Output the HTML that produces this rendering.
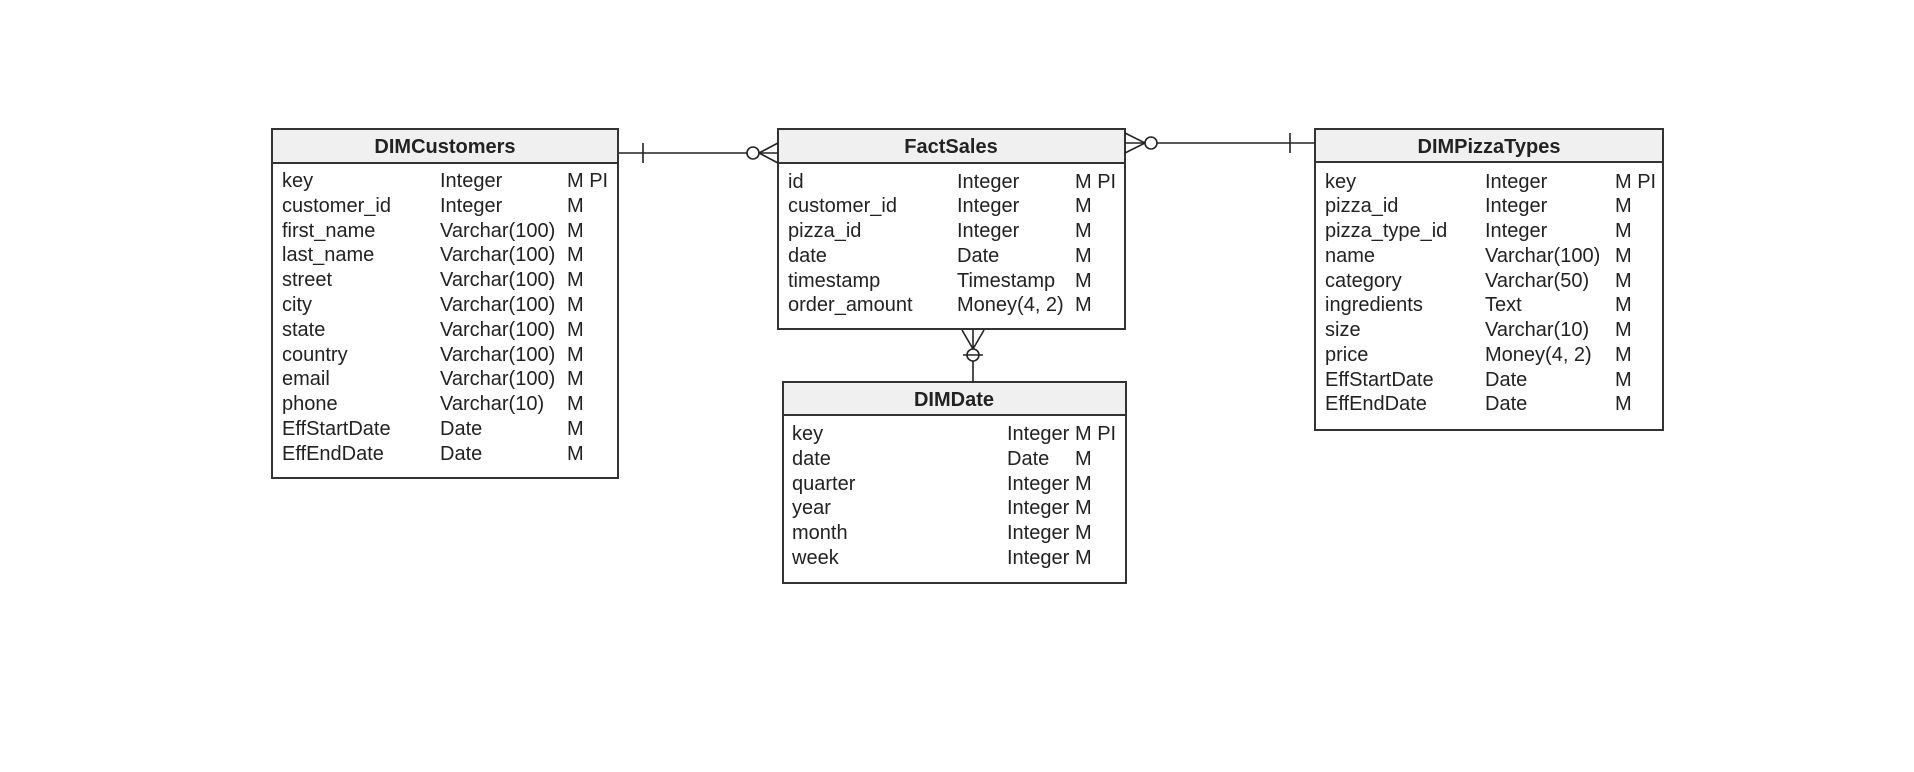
<!DOCTYPE html>
<html><head><meta charset="utf-8"><style>
html,body{margin:0;padding:0;background:#fff;width:1914px;height:772px;overflow:hidden}
svg text{font-family:"Liberation Sans",Arial,sans-serif;font-size:20px;fill:#222}
.t{font-weight:bold;text-anchor:middle}
</style></head><body>
<svg width="1914" height="772" xmlns="http://www.w3.org/2000/svg">
<g stroke="#333" stroke-width="2" fill="none">
<rect x="272" y="129" width="346" height="349" fill="#fff"/>
<rect x="272" y="129" width="346" height="34" fill="#f0f0f0"/>
<rect x="778" y="129" width="347" height="200" fill="#fff"/>
<rect x="778" y="129" width="347" height="34" fill="#f0f0f0"/>
<rect x="783" y="382" width="343" height="201" fill="#fff"/>
<rect x="783" y="382" width="343" height="33" fill="#f0f0f0"/>
<rect x="1315" y="129" width="348" height="301" fill="#fff"/>
<rect x="1315" y="129" width="348" height="33" fill="#f0f0f0"/>
</g>
<g stroke="#222" stroke-width="1.6" fill="none">
<line x1="619" y1="153" x2="747" y2="153"/>
<line x1="643" y1="143" x2="643" y2="163"/>
<circle cx="753" cy="153" r="6" fill="#fff"/>
<line x1="759" y1="153" x2="778" y2="143"/>
<line x1="759" y1="153" x2="778" y2="163"/>
<line x1="759" y1="153" x2="778" y2="153"/>
<line x1="1157" y1="143" x2="1315" y2="143"/>
<line x1="1290" y1="133" x2="1290" y2="153"/>
<circle cx="1151" cy="143" r="6" fill="#fff"/>
<line x1="1145" y1="143" x2="1125" y2="133"/>
<line x1="1145" y1="143" x2="1125" y2="153"/>
<line x1="1145" y1="143" x2="1125" y2="143"/>
<line x1="973" y1="330" x2="973" y2="349"/>
<line x1="973" y1="349" x2="962" y2="330"/>
<line x1="973" y1="349" x2="984" y2="330"/>
<circle cx="973" cy="355" r="6" fill="#fff"/>
<line x1="963" y1="355" x2="983" y2="355"/>
<line x1="973" y1="361" x2="973" y2="382"/>
</g>
<text class="t" x="445" y="153">DIMCustomers</text>
<text class="t" x="951" y="153">FactSales</text>
<text class="t" x="954" y="406">DIMDate</text>
<text class="t" x="1489" y="153">DIMPizzaTypes</text>
<g>
<text x="282" y="187">key</text><text x="440" y="187">Integer</text><text x="567" y="187">M PI</text>
<text x="282" y="212">customer_id</text><text x="440" y="212">Integer</text><text x="567" y="212">M</text>
<text x="282" y="237">first_name</text><text x="440" y="237">Varchar(100)</text><text x="567" y="237">M</text>
<text x="282" y="261">last_name</text><text x="440" y="261">Varchar(100)</text><text x="567" y="261">M</text>
<text x="282" y="286">street</text><text x="440" y="286">Varchar(100)</text><text x="567" y="286">M</text>
<text x="282" y="311">city</text><text x="440" y="311">Varchar(100)</text><text x="567" y="311">M</text>
<text x="282" y="336">state</text><text x="440" y="336">Varchar(100)</text><text x="567" y="336">M</text>
<text x="282" y="361">country</text><text x="440" y="361">Varchar(100)</text><text x="567" y="361">M</text>
<text x="282" y="385">email</text><text x="440" y="385">Varchar(100)</text><text x="567" y="385">M</text>
<text x="282" y="410">phone</text><text x="440" y="410">Varchar(10)</text><text x="567" y="410">M</text>
<text x="282" y="435">EffStartDate</text><text x="440" y="435">Date</text><text x="567" y="435">M</text>
<text x="282" y="460">EffEndDate</text><text x="440" y="460">Date</text><text x="567" y="460">M</text>
</g>
<g>
<text x="788" y="188">id</text><text x="957" y="188">Integer</text><text x="1075" y="188">M PI</text>
<text x="788" y="212">customer_id</text><text x="957" y="212">Integer</text><text x="1075" y="212">M</text>
<text x="788" y="237">pizza_id</text><text x="957" y="237">Integer</text><text x="1075" y="237">M</text>
<text x="788" y="262">date</text><text x="957" y="262">Date</text><text x="1075" y="262">M</text>
<text x="788" y="287">timestamp</text><text x="957" y="287">Timestamp</text><text x="1075" y="287">M</text>
<text x="788" y="311">order_amount</text><text x="957" y="311">Money(4, 2)</text><text x="1075" y="311">M</text>
</g>
<g>
<text x="792" y="440">key</text><text x="1007" y="440">Integer</text><text x="1075" y="440">M PI</text>
<text x="792" y="465">date</text><text x="1007" y="465">Date</text><text x="1075" y="465">M</text>
<text x="792" y="490">quarter</text><text x="1007" y="490">Integer</text><text x="1075" y="490">M</text>
<text x="792" y="514">year</text><text x="1007" y="514">Integer</text><text x="1075" y="514">M</text>
<text x="792" y="539">month</text><text x="1007" y="539">Integer</text><text x="1075" y="539">M</text>
<text x="792" y="564">week</text><text x="1007" y="564">Integer</text><text x="1075" y="564">M</text>
</g>
<g>
<text x="1325" y="188">key</text><text x="1485" y="188">Integer</text><text x="1615" y="188">M PI</text>
<text x="1325" y="212">pizza_id</text><text x="1485" y="212">Integer</text><text x="1615" y="212">M</text>
<text x="1325" y="237">pizza_type_id</text><text x="1485" y="237">Integer</text><text x="1615" y="237">M</text>
<text x="1325" y="262">name</text><text x="1485" y="262">Varchar(100)</text><text x="1615" y="262">M</text>
<text x="1325" y="287">category</text><text x="1485" y="287">Varchar(50)</text><text x="1615" y="287">M</text>
<text x="1325" y="311">ingredients</text><text x="1485" y="311">Text</text><text x="1615" y="311">M</text>
<text x="1325" y="336">size</text><text x="1485" y="336">Varchar(10)</text><text x="1615" y="336">M</text>
<text x="1325" y="361">price</text><text x="1485" y="361">Money(4, 2)</text><text x="1615" y="361">M</text>
<text x="1325" y="386">EffStartDate</text><text x="1485" y="386">Date</text><text x="1615" y="386">M</text>
<text x="1325" y="410">EffEndDate</text><text x="1485" y="410">Date</text><text x="1615" y="410">M</text>
</g>
</svg>
</body></html>
